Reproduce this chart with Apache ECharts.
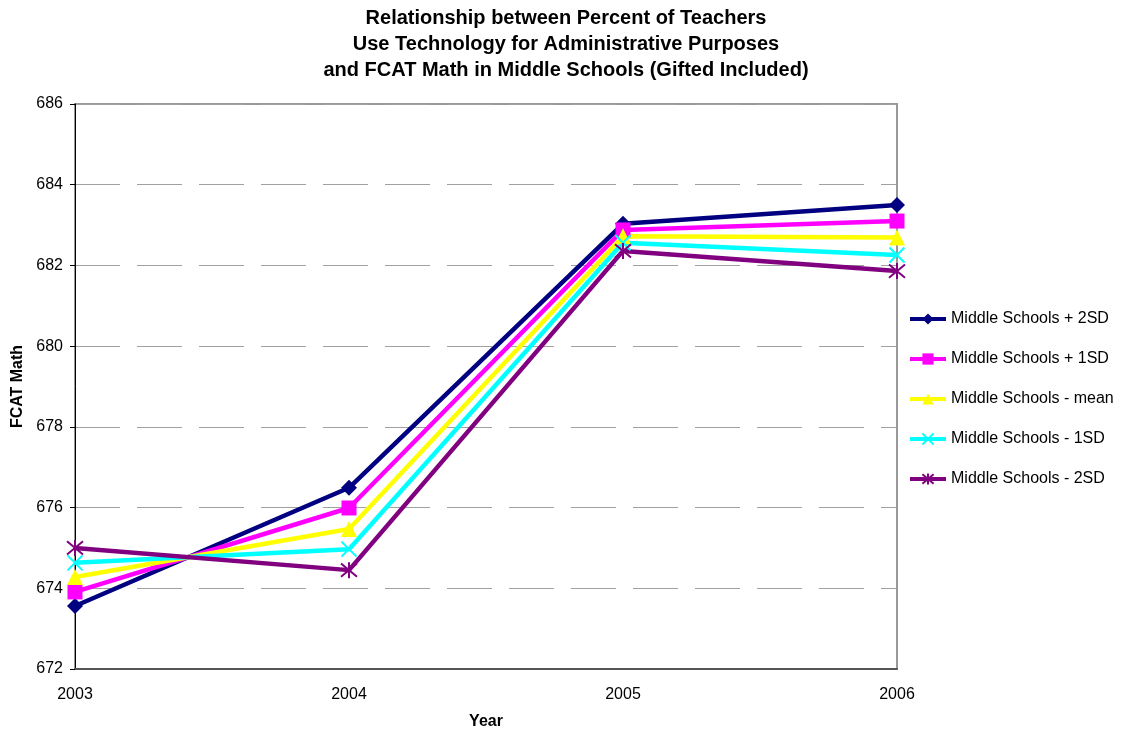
<!DOCTYPE html>
<html>
<head>
<meta charset="utf-8">
<script src="https://cdn.jsdelivr.net/npm/echarts@6/dist/echarts.min.js"></script>
<style>html,body{margin:0;padding:0;background:#fff}#c{width:1129px;height:731px}</style>
</head>
<body>
<div id="c"></div>
<script>
var years = ['2003', '2004', '2005', '2006'];
var seriesNames = ['Middle Schools + 2SD', 'Middle Schools + 1SD', 'Middle Schools - mean', 'Middle Schools - 1SD', 'Middle Schools - 2SD'];
var plus2SD  = [673.56, 676.49, 683.03, 683.50];
var plus1SD  = [673.91, 675.99, 682.88, 683.10];
var meanVals = [674.28, 675.47, 682.72, 682.69];
var minus1SD = [674.63, 674.97, 682.56, 682.26];
var minus2SD = [675.00, 674.45, 682.36, 681.86];
var yTicks = [672, 674, 676, 678, 680, 682, 684, 686];

var colors = ['#000080', '#FF00FF', '#FFFF00', '#00FFFF', '#800080'];
var symbols = ['diamond', 'rect', 'triangle', 'path://M0,0L10,10M10,0L0,10', 'path://M0,0L10,10M10,0L0,10M5,-1L5,11'];
var sizes = [16, 15, 16, 15, 16];
var dataSets = [plus2SD, plus1SD, meanVals, minus1SD, minus2SD];
var FONT = 'Liberation Sans, Arial, sans-serif';

var series = dataSets.map(function (d, i) {
  var stroke = i >= 3;
  return {
    name: seriesNames[i],
    type: 'line',
    data: d,
    symbol: symbols[i],
    symbolSize: sizes[i],
    showAllSymbol: true,
    lineStyle: { color: colors[i], width: 4.5 },
    itemStyle: { color: colors[i], borderColor: colors[i], borderWidth: stroke ? 2 : 0 },
    emphasis: { disabled: true },
    animation: false
  };
});

var chart = echarts.init(document.getElementById('c'));
chart.setOption({
  backgroundColor: '#fff',
  textStyle: { fontFamily: FONT },
  title: {
    text: 'Relationship between Percent of Teachers\nUse Technology for Administrative Purposes\nand FCAT Math in Middle Schools (Gifted Included)',
    left: 561, top: 0, textAlign: 'center',
    textStyle: { fontFamily: FONT, fontWeight: 'bold', fontSize: 20, lineHeight: 26, color: '#000' }
  },
  legend: {
    orient: 'vertical', left: 903, top: 306,
    itemWidth: 36, itemHeight: 14, itemGap: 24,
    lineStyle: { width: 4 },
    textStyle: { fontFamily: FONT, fontSize: 16, color: '#000', padding: [0, 0, 0, 0] },
    data: seriesNames
  },
  grid: { left: 75, right: 232, top: 104, bottom: 62, containLabel: false, outerBoundsMode: 'none', show: true, borderColor: '#999', borderWidth: 2, backgroundColor: '#fff' },
  xAxis: {
    type: 'category', data: years, boundaryGap: false,
    name: 'Year', nameLocation: 'middle', nameGap: 45,
    nameTextStyle: { fontFamily: FONT, fontWeight: 'bold', fontSize: 16, color: '#000' },
    axisLine: { lineStyle: { color: '#555', width: 2 } },
    axisTick: { show: false },
    axisLabel: { color: '#000', fontSize: 16, margin: 18 },
    splitLine: { show: false }
  },
  yAxis: {
    type: 'value', min: 672, max: 686, interval: 2,
    name: 'FCAT Math', nameLocation: 'middle', nameGap: 47,
    nameTextStyle: { fontFamily: FONT, fontWeight: 'bold', fontSize: 16, color: '#000' },
    axisLine: { show: true, lineStyle: { color: '#000', width: 1 } },
    axisTick: { show: true, length: 5, lineStyle: { color: '#000' } },
    axisLabel: { color: '#000', fontSize: 16, margin: 12 },
    splitLine: { show: true, lineStyle: { color: '#a0a0a0', width: 1, type: [45, 17] } }
  },
  series: series
});
</script>
</body>
</html>
